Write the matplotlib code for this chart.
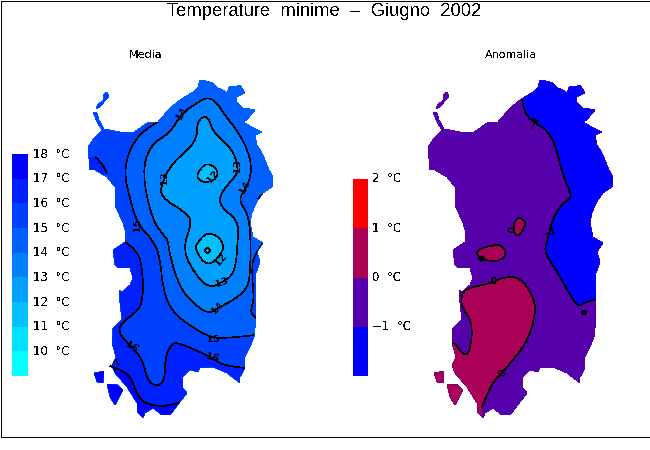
import matplotlib
matplotlib.use("Agg")
import matplotlib.pyplot as plt
from matplotlib.path import Path
from matplotlib.patches import PathPatch

plt.rcParams["text.antialiased"] = False

# island outlines, picture coordinates of the left map
sardegna = [(200,80),(206,81),(213,83),(218,88),(223,90),(227,93),(229,87),(237,86),(240,85),(245,93),(237,97),(236,102),
            (243,108),(250,109),(255,110),(250,116),(247,120),(243,122),(250,126),(256,129),(262,132),(255,135),
            (257,145),(262,153),(265,160),(269,170),(273,177),(272,187),(263,193),(258,200),(254,208),(252,213),
            (250,223),(253,237),(263,243),(257,252),(260,262),(256,273),(256,300),(256,318),(254,337),(250,347),
            (245,357),(245,368),(240,377),(240,383),(227,373),(213,367),(200,368),(198,372),(190,370),(183,377),
            (183,388),(187,393),(180,402),(170,415),(162,415),(153,408),(145,413),(143,418),(138,413),(137,403),
            (127,387),(115,373),(112,365),(116,357),(112,343),(113,328),(122,320),(120,303),(119,290),(122,292),
            (130,285),(133,278),(130,268),(118,268),(115,265),(113,250),(125,242),(125,230),(123,223),(115,205),
            (115,187),(107,177),(95,170),(90,170),(88,147),(95,137),(102,130),(97,122),(93,112),(97,113),(99,120),
            (104,129),(120,132),(133,133),(147,123),(158,122),(170,108),(180,100),(193,92),(198,87)]
asinara = [(96,109),(98,104),(104,100),(103,95),(107,92),(109,97),(104,102),(100,107)]
san_pietro = [(94,373),(104,371),(103,383),(97,382)]
santantioco = [(107,384),(118,385),(123,390),(115,405),(110,397)]
isole = [sardegna, asinara, san_pietro, santantioco]

# media: contour lines
media_17 = [(113,367),(130,373),(135,390),(143,403),(163,407),(180,402)]
media_16 = [(125,242),(138,250),(143,273),(143,300),(137,312),(122,322),(118,333),(132,347),(143,360),(147,380),
            (157,387),(165,380),(165,357),(172,343),(180,343),(213,358),(222,365),(245,368)]
media_16_nw = [(95,157),(100,160),(107,173)]
media_15 = [(158,122),(138,132),(123,167),(130,200),(138,225),(153,240),(160,257),(163,290),(172,312),(193,328),
            (212,338),(227,338),(256,335)]
media_15_e = [(263,243),(253,257),(252,270),(253,290),(254,300),(250,312),(256,318)]
media_15_o = [(258,199),(260,195),(272,190)]
media_14 = [(207,97),(217,102),(223,113),(237,130),(248,150),(252,170),(247,187),(238,200),(248,213),(251,240),
            (250,273),(248,287),(237,298),(218,308),(208,314),(193,303),(180,288),(170,257),(168,240),(165,237),
            (152,220),(142,173),(150,145),(170,133),(182,113),(197,103)]
media_13 = [(208,115),(213,133),(232,148),(238,167),(237,175),(220,193),(220,207),(238,220),(238,240),(235,273),
            (223,282),(210,288),(197,277),(182,250),(192,223),(187,213),(160,197),(162,183),(172,163),(197,142),
            (197,120)]
media_12_a = [(197,173),(207,162),(218,170),(217,178),(208,183),(198,180)]
media_12_b = [(207,232),(220,237),(225,250),(208,268),(195,250),(197,243)]
media_12_c = [(205,248),(210,248),(210,253),(205,253)]
media_labels = [("14",182,113,60),("13",165,178,90),("12",213,177,50),("13",238,166,90),("14",245,187,60),
                ("15",138,225,90),("12",221,260,50),("13",222,283,20),("14",218,308,45),("15",213,339,0),
                ("16",213,358,-10),("16",132,347,-30),("17",116,365,50)]

# anomalia: contour lines
anom_m1 = [(522,95),(522,108),(532,122),(545,128),(555,143),(563,177),(573,197),(563,203),(553,217),(547,242),
           (544,252),(558,273),(573,300),(579,307),(585,302),(597,299)]
anom_m1_b = [(584,310),(587,312),(584,315),(581,312)]
anom_0_a = [(520,217),(527,223),(518,238),(513,230),(515,220)]
anom_0_b = [(476,250),(493,245),(502,245),(507,255),(497,262),(485,260),(478,257)]
anom_0_c = [(453,343),(455,343),(463,355),(470,353),(473,323),(462,308),(461,295),(467,288),(493,283),(503,277),
            (521,277),(535,300),(535,317),(527,343),(503,372),(492,383),(482,407)]
anom_labels = [("−1",534,123,60),("−1",549,233,15),("0",513,230,80),("0",483,258,70),("0",494,282,0),("0",503,373,60)]

# colour bars, top band first
media_ticks = ["18","17","16","15","14","13","12","11","10"]
media_colors = ["#0000ff","#0020ff","#0040ff","#0060ff","#0080ff","#00a0ff","#00c0ff","#00e0ff","#00ffff"]
anom_ticks = ["2","1","0","−1"]
anom_colors = ["#ff0000","#aa0055","#5500aa","#0000ff"]


def curve(line, extra=(), closed=False):
    # quadratic bezier through the contour points, they act as control points
    verts, codes = [], []
    mid = lambda a, b: ((a[0] + b[0]) / 2, (a[1] + b[1]) / 2)
    if closed:
        verts.append(mid(line[-1], line[0]))
        codes.append(Path.MOVETO)
        seq = line + line[:1]
        for i in range(len(line)):
            verts += [seq[i], mid(seq[i], seq[i + 1])]
            codes += [Path.CURVE3, Path.CURVE3]
    else:
        verts.append(line[0])
        codes.append(Path.MOVETO)
        for i in range(1, len(line) - 1):
            verts += [line[i], mid(line[i], line[i + 1])]
            codes += [Path.CURVE3, Path.CURVE3]
        verts.append(line[-1])
        codes.append(Path.LINETO)
    for p in extra:
        verts.append(p)
        codes.append(Path.LINETO)
    return Path(verts, codes)


def region(ax, line, extra, color, clip):
    ax.add_patch(PathPatch(curve(line, extra), fc=color, lw=0, antialiased=False, clip_path=clip))


def blob(ax, line, color):
    ax.add_patch(PathPatch(curve(line, closed=True), fc=color, ec="black", lw=0.45, antialiased=False))


def contour(ax, line, clip):
    ax.add_patch(PathPatch(curve(line), fc="none", ec="black", lw=0.45, antialiased=False, clip_path=clip))


def colorbar(ax, x, w, top, h, colors, ticks, tick_x):
    for i, c in enumerate(colors):
        ax.bar(x, h, width=w, bottom=top + i * h, align="edge", color=c, lw=0, antialiased=False)
        ax.text(tick_x, top + i * h, ticks[i] + "  °C", fontsize=8.5, va="center", ha="left")


fig = plt.figure(figsize=(6.5, 4.5), dpi=100)
ax = fig.add_axes([0, 0, 1, 1])
ax.set_xlim(0, 650)
ax.set_ylim(450, 0)
ax.axis("off")

ax.plot([0.5, 649.5, 649.5, 0.5, 0.5], [0.5, 0.5, 436.5, 436.5, 0.5], color="black", lw=0.7, antialiased=False)

left = Path.make_compound_path(*[Path(p + p[:1]) for p in isole])
right = Path.make_compound_path(*[Path([(x + 340, y) for x, y in p + p[:1]]) for p in isole])

# left map
clip = PathPatch(left, transform=ax.transData, fc="#0060ff", lw=0, antialiased=False)
ax.add_patch(clip)
region(ax, media_15, [(256,450),(60,450),(60,60),(158,60)], "#0040ff", clip)
region(ax, media_15_e, [(300,318),(300,243)], "#0040ff", clip)
region(ax, media_15_o, [(280,190),(280,205)], "#0040ff", clip)
region(ax, media_16, [(245,440),(60,440),(60,242)], "#0020ff", clip)
region(ax, media_16_nw, [(80,180),(80,157)], "#0020ff", clip)
region(ax, media_17, [(180,440),(60,440),(60,367)], "#0000ff", clip)
for ln in (media_17, media_16, media_16_nw, media_15, media_15_e, media_15_o):
    contour(ax, ln, clip)
blob(ax, media_14, "#0080ff")
blob(ax, media_13, "#00a0ff")
blob(ax, media_12_a, "#00c0ff")
blob(ax, media_12_b, "#00c0ff")
blob(ax, media_12_c, "#00c0ff")
for txt, x, y, rot in media_labels:
    ax.text(x, y, txt, fontsize=6.5, fontweight="bold", rotation=rot, ha="center", va="center")

# right map
clip2 = PathPatch(right, transform=ax.transData, fc="#5500aa", lw=0, antialiased=False)
ax.add_patch(clip2)
region(ax, anom_m1, [(640,299),(640,70),(522,70)], "#0000ff", clip2)
region(ax, anom_0_c, [(482,440),(420,440),(420,343)], "#aa0055", clip2)
contour(ax, anom_m1, clip2)
contour(ax, anom_0_c, clip2)
blob(ax, anom_0_a, "#aa0055")
blob(ax, anom_0_b, "#aa0055")
blob(ax, anom_m1_b, "#0000ff")
for txt, x, y, rot in anom_labels:
    ax.text(x, y, txt, fontsize=6.5, fontweight="bold", rotation=rot, ha="center", va="center")

colorbar(ax, 12, 16, 154, 222 / 9, media_colors, media_ticks, 33)
colorbar(ax, 353, 15, 179, 197 / 4, anom_colors, anom_ticks, 372)

ax.text(324, 11, "Temperature  minime  –  Giugno  2002", fontsize=13.2, ha="center", va="center", family="Liberation Sans")
ax.text(146, 55, "Media", fontsize=8, ha="center", va="center")
ax.text(511, 55, "Anomalia", fontsize=8, ha="center", va="center")

fig.savefig("out.png", dpi=100)
